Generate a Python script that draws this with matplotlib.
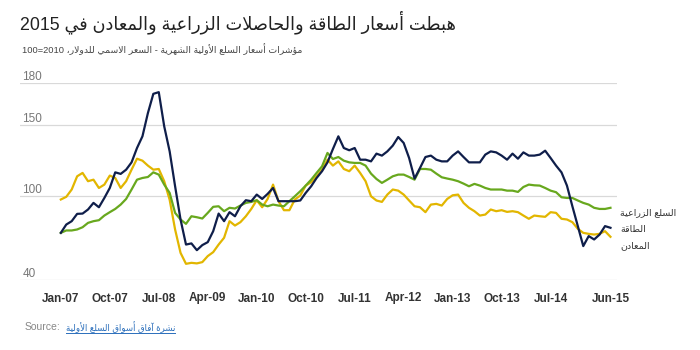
import re
import matplotlib
matplotlib.use('Agg')
import matplotlib.pyplot as plt
from matplotlib.lines import Line2D

plt.rcParams['font.family'] = ['Liberation Sans', 'DejaVu Sans']

# monthly index values, Jan-07 .. Jun-15 (2010=100)
energy = [73.5, 79.4, 81.8, 87.0, 87.2, 90.1, 94.8, 91.7, 98.3, 105.4, 116.5, 115.4, 118.4, 123.6, 133.8, 142.1, 158.6, 172.3, 173.5, 149.2, 131.4,
          106.6, 83.0, 65.2, 66.0, 61.2, 64.8, 66.9, 74.7, 87.2, 81.8, 88.2, 85.3, 92.4, 96.7, 96.0, 100.7, 97.6, 101.2, 105.4, 96.0,
          96.0, 96.0, 96.0, 96.5, 101.9, 106.6, 112.5, 117.3, 123.6, 133.1, 142.1, 133.8, 132.2, 133.8, 125.5, 125.5, 124.3, 129.8, 128.4, 131.4,
          135.5, 141.6, 137.4, 126.7, 112.1, 119.6, 127.4, 128.4, 125.5, 124.3, 124.3, 128.4, 131.4, 127.4, 123.6, 123.6, 123.6, 129.1, 131.4, 130.7,
          128.4, 125.5, 129.8, 126.2, 130.7, 128.4, 128.4, 129.1, 131.9, 126.7, 121.3, 116.5, 107.1, 92.4, 78.3, 64.1, 71.2, 68.8, 72.3, 78.3, 77.1]
metals = [97.2, 99.1, 104.3, 113.7, 116.1, 110.2, 111.3, 105.4, 107.8, 114.2, 112.5, 105.4, 110.2, 118.4, 126.2, 124.8, 121.3, 118.4, 118.9, 110.2, 97.0,
          75.9, 59.3, 51.5, 52.2, 51.8, 52.7, 57.0, 59.8, 65.2, 70.0, 81.8, 78.7, 81.1, 85.3, 90.5, 96.7, 91.7, 97.6, 107.8, 96.0,
          89.6, 89.6, 97.2, 100.0, 107.1, 109.5, 113.7, 118.4, 125.5, 121.3, 124.3, 118.9, 117.3, 121.3, 116.1, 110.2, 99.5, 96.5, 95.5, 100.7,
          104.3, 103.5, 100.7, 96.5, 92.4, 91.7, 88.2, 93.6, 94.1, 92.9, 97.6, 100.2, 100.7, 94.8, 91.3, 88.9, 85.8, 86.5, 90.1, 88.9,
          89.6, 88.4, 88.9, 88.2, 85.8, 83.5, 85.8, 85.3, 84.9, 88.2, 87.7, 83.5, 83.0, 81.1, 76.4, 73.5, 72.8, 72.3, 72.8, 74.7, 70.7]
agri = [73.5, 75.2, 75.2, 75.9, 77.5, 80.6, 81.8, 82.5, 85.8, 88.2, 90.5, 93.6, 97.6, 104.3, 111.3, 112.5, 113.2, 116.5, 114.9, 107.8, 101.9,
        87.7, 83.0, 79.9, 85.3, 84.6, 83.7, 87.7, 92.0, 92.4, 88.9, 91.3, 90.8, 92.9, 94.8, 95.5, 96.7, 93.6, 92.4, 93.6, 92.9,
        92.4, 96.0, 99.5, 103.1, 107.1, 111.3, 116.1, 120.8, 130.3, 126.0, 127.4, 124.8, 123.6, 123.2, 123.2, 121.3, 115.6, 111.8, 109.0, 111.3,
        113.7, 114.9, 114.9, 113.2, 111.3, 118.9, 118.9, 118.4, 115.6, 113.0, 112.1, 111.3, 110.2, 108.5, 106.6, 108.3, 107.1, 105.4, 104.3, 104.3,
        104.3, 103.5, 103.5, 102.6, 106.1, 107.8, 107.3, 107.1, 105.4, 103.5, 102.4, 98.8, 98.3, 98.3, 96.5, 94.8, 93.6, 91.3, 90.5, 90.5, 91.3]

tick_pos = [0, 9, 18, 27, 36, 45, 54, 63, 72, 81, 90, 101]
tick_labels = ['Jan-07', 'Oct-07', 'Jul-08', 'Apr-09', 'Jan-10', 'Oct-10',
               'Jul-11', 'Apr-12', 'Jan-13', 'Oct-13', 'Jul-14', 'Jun-15']
y_ticks = [40, 100, 150, 180]

title = 'هبطت أسعار الطاقة والحاصلات الزراعية والمعادن في 2015'
subtitle = 'مؤشرات أسعار السلع الأولية الشهرية - السعر الاسمي للدولار، 2010=100'
names = ['السلع الزراعية', 'الطاقة', 'المعادن']
source_link = 'نشرة آفاق أسواق السلع الأولية'

# --- minimal arabic shaping + rtl ordering (matplotlib does none) ---
DUAL = {'ئ': 0xFE89, 'ب': 0xFE8F, 'ت': 0xFE95, 'ث': 0xFE99, 'ج': 0xFE9D, 'ح': 0xFEA1,
        'خ': 0xFEA5, 'س': 0xFEB1, 'ش': 0xFEB5, 'ص': 0xFEB9, 'ض': 0xFEBD, 'ط': 0xFEC1,
        'ظ': 0xFEC5, 'ع': 0xFEC9, 'غ': 0xFECD, 'ف': 0xFED1, 'ق': 0xFED5, 'ك': 0xFED9,
        'ل': 0xFEDD, 'م': 0xFEE1, 'ن': 0xFEE5, 'ه': 0xFEE9, 'ي': 0xFEF1}
RIGHT = {'آ': 0xFE81, 'أ': 0xFE83, 'ؤ': 0xFE85, 'إ': 0xFE87, 'ا': 0xFE8D, 'ة': 0xFE93,
         'د': 0xFEA9, 'ذ': 0xFEAB, 'ر': 0xFEAD, 'ز': 0xFEAF, 'و': 0xFEED, 'ى': 0xFEEF}
LAM_ALEF = {'آ': 0xFEF5, 'أ': 0xFEF7, 'إ': 0xFEF9, 'ا': 0xFEFB}


def ar(text):
    out = []
    i = 0
    n = len(text)
    while i < n:
        c = text[i]
        pj = i > 0 and text[i - 1] in DUAL
        if c == 'ل' and i + 1 < n and text[i + 1] in LAM_ALEF:
            out.append(chr(LAM_ALEF[text[i + 1]] + (1 if pj else 0)))
            i += 2
            continue
        nxt = text[i + 1] if i + 1 < n else ''
        nj = nxt in DUAL or nxt in RIGHT
        if c in DUAL:
            form = (3 if nj else 1) if pj else (2 if nj else 0)
            out.append(chr(DUAL[c] + form))
        elif c in RIGHT:
            out.append(chr(RIGHT[c] + (1 if pj else 0)))
        else:
            out.append(c)
        i += 1
    s = ''.join(out)[::-1]
    return re.sub(r'[0-9]+', lambda m: m.group()[::-1], s)


fig = plt.figure(figsize=(7, 3.5), dpi=100)
ax = fig.add_axes([20 / 700, 70 / 350, 597 / 700, 197 / 350])

x = list(range(len(energy)))
ax.plot(x, metals, color='#e2b600', lw=1.6, clip_on=False)
ax.plot(x, agri, color='#68a81e', lw=1.6, clip_on=False)
ax.plot(x, energy, color='#0f1e4a', lw=1.6, clip_on=False)

ax.set_xlim(-7.5, 102.2)
ax.set_ylim(40, 180)
for s in ax.spines.values():
    s.set_visible(False)
ax.set_yticks(y_ticks)
ax.set_yticklabels([])
ax.grid(axis='y', color='#d9d9d9', lw=0.9)
ax.tick_params(length=0)
ax.set_xticks(tick_pos)
ax.set_xticklabels(tick_labels, fontsize=8.5, fontweight='bold', color='#333333')
ax.tick_params(axis='x', pad=9)
ax.set_axisbelow(True)

for v in y_ticks:
    ax.text(0.004, v, str(v), transform=ax.get_yaxis_transform(), fontsize=8.5,
            color='#777777', va='bottom', ha='left')

# end labels
for lab, yy in zip(names, [213, 230, 246]):
    fig.text(620 / 700, 1 - yy / 350, ar(lab), fontsize=6.8, color='#333333',
             ha='left', va='center')

fig.text(20 / 700, 1 - 22 / 350, ar(title), fontsize=12.8, color='#222222', ha='left', va='center')
fig.text(22 / 700, 1 - 49 / 350, ar(subtitle), fontsize=6.7, color='#444444', ha='left', va='center')

fig.text(25 / 700, 1 - 327 / 350, 'Source:', fontsize=7.5, color='#888888', ha='left', va='center')
link = fig.text(66 / 700, 1 - 327 / 350, ar(source_link), fontsize=6.2, color='#2a6ebb',
                ha='left', va='center')

fig.canvas.draw()
bb = link.get_window_extent().transformed(fig.transFigure.inverted())
fig.add_artist(Line2D([bb.x0, bb.x1], [bb.y0, bb.y0], transform=fig.transFigure,
                      color='#2a6ebb', lw=0.7))

fig.savefig('out.png', dpi=100, facecolor='white')
